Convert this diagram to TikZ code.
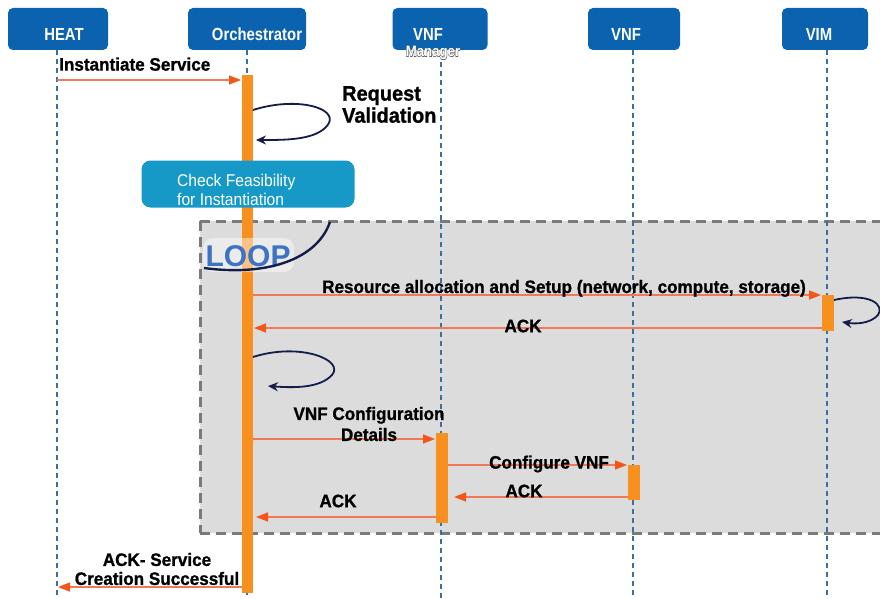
\documentclass[tikz,border=0pt]{standalone}
\usepackage{fontspec}
\setmainfont{Liberation Sans}
\newfontfamily\narrowbold[FakeStretch=0.95,FakeBold=1]{Liberation Sans Bold}
\newfontfamily\hdrfont[FakeStretch=0.85]{Liberation Sans Bold}
\newfontfamily\mgrfont[FakeStretch=0.88]{Liberation Sans Bold}
\newfontfamily\mgroutline[FakeStretch=0.88,FakeBold=4]{Liberation Sans Bold}
\newfontfamily\bodyfont[FakeStretch=0.92]{Liberation Sans}
\usetikzlibrary{arrows.meta,shapes.geometric}
\definecolor{hdrblue}{HTML}{0B62AE}
\definecolor{lifeblue}{HTML}{3C6E9E}
\definecolor{barorange}{HTML}{F7901E}
\definecolor{arrline}{HTML}{F2785A}
\definecolor{arrhead}{HTML}{F2561C}
\definecolor{teal}{HTML}{1799C8}
\definecolor{loopgray}{HTML}{DCDCDC}
\definecolor{loopedge}{HTML}{7A7A7A}
\definecolor{navy}{HTML}{141C4A}
\definecolor{loopblue}{HTML}{3D72C4}
\tikzset{
  hdr/.style={draw=none,fill=hdrblue,rounded corners=5pt,minimum height=42pt,inner sep=0pt},
  hdrtxt/.style={text=white,font=\hdrfont\fontsize{17.5}{18}\selectfont,inner sep=0pt},
  life/.style={lifeblue,line width=1.3pt,dash pattern=on 5pt off 4pt},
  bar/.style={fill=barorange,draw=none},
  msg/.style={arrline,line width=1.6pt,-{Triangle[length=12pt,width=9pt,color=arrhead]}},
  lbl/.style={font=\narrowbold\fontsize{18}{18}\selectfont,text=black,inner sep=0pt},
  selfloop/.style={navy,line width=1.8pt,-{Stealth[length=10pt,width=9pt]}},
}
\begin{document}
\begin{tikzpicture}[x=1pt,y=-1pt]
\useasboundingbox (0,0) rectangle (880,599);
\clip (0,0) rectangle (880,599);
\fill[white] (0,0) rectangle (880,599);
% loop frame
\fill[loopgray] (200,221) rectangle (890,533);
\draw[loopedge,line width=3pt,dash pattern=on 10pt off 6pt] (200,221) -- (890,221) (200,533) -- (890,533) (200,221) -- (200,533);
% header boxes
\node[hdr,minimum width=100pt] (heat) at (58,29) {};
\node[hdr,minimum width=118pt] (orch) at (247,29) {};
\node[hdr,minimum width=95pt] (vnfm) at (440,29) {};
\node[hdr,minimum width=92pt] (vnf) at (634,29) {};
\node[hdr,minimum width=86pt] (vim) at (825,29) {};
\node[hdrtxt] (heatt) at (64,34) {HEAT};
\node[hdrtxt] (orcht) at (257,34) {Orchestrator};
\node[hdrtxt] (vnfmt) at (428,34) {VNF};
\node[hdrtxt] (vnft) at (626,34) {VNF};
\node[hdrtxt] (vimt) at (819,34) {VIM};
\node[font=\mgroutline\fontsize{15}{15}\selectfont,text=gray!70!black,inner sep=0pt] (mgro) at (433,53) {Manager};
\node[font=\mgrfont\fontsize{15}{15}\selectfont,text=white,inner sep=0pt] (mgr) at (433,53) {Manager};
% lifelines
\coordinate (heatB) at (57,599);
\coordinate (orchB) at (247,599);
\coordinate (vnfmB) at (441,599);
\coordinate (vnfB) at (633,599);
\coordinate (vimB) at (827,599);
\draw[life] (57,50) -- (heatB);
\draw[life] (247,50) -- (orchB);
\draw[life] (441,62) -- (vnfmB);
\draw[life] (633,50) -- (vnfB);
\draw[life] (827,50) -- (vimB);
% activation bars
\node[bar,minimum width=11pt,minimum height=518pt,inner sep=0pt,anchor=north] (obar) at (247.5,75) {};
\node[bar,minimum width=12pt,minimum height=36pt,inner sep=0pt,anchor=north] (vimbar) at (828,295) {};
\node[bar,minimum width=12pt,minimum height=90pt,inner sep=0pt,anchor=north] (mbar) at (442,433) {};
\node[bar,minimum width=12pt,minimum height=35pt,inner sep=0pt,anchor=north] (vbar) at (634,465) {};
% check feasibility box
\node[fill=teal,rounded corners=9pt,minimum width=213pt,minimum height=47pt,inner sep=0pt] (check) at (248,184) {};
\node[text=white,font=\bodyfont\fontsize{17}{19}\selectfont,align=left,anchor=west,inner sep=0pt] (checkt) at (177,190) {Check Feasibility\\for Instantiation};
% LOOP label
\fill[white,opacity=0.45,rounded corners=10pt] (203,238) rectangle (294,272);
\node[font=\bfseries\fontsize{30}{30}\selectfont,text=loopblue,inner sep=0pt] (looplbl) at (248,256) {LOOP};
\draw[navy,line width=2.4pt] (330,222) .. controls (316,262) and (262,276) .. (204,268);
% messages
\coordinate (m1s) at (57,80); \coordinate (m1e) at (241,80);
\draw[msg] (m1s) -- (m1e);
\node[lbl,anchor=south west] (l1) at (59,71) {Instantiate Service};
% self loop 1
\draw[selfloop] (253,110) .. controls (300,95) and (345,110) .. (325,128) .. controls (312,140) and (285,140) .. (256,140);
\node[lbl,font=\narrowbold\fontsize{21}{22}\selectfont,align=left,anchor=north west] (l2) at (342,86) {Request\\Validation};
% resource allocation
\coordinate (m2s) at (253,295); \coordinate (m2e) at (821,295);
\draw[msg] (m2s) -- (m2e);
\node[lbl,anchor=south] (l3) at (564,297) {Resource allocation and Setup (network, compute, storage)};
\draw[selfloop] (834,300) .. controls (870,292) and (885,305) .. (878,315) .. controls (870,324) and (855,324) .. (842,322);
\coordinate (m3s) at (822,328); \coordinate (m3e) at (254,328);
\draw[msg] (m3s) -- (m3e);
\node[lbl,anchor=center] (l4) at (523,326) {ACK};
% self loop 2
\draw[selfloop] (253,357) .. controls (300,342) and (345,360) .. (332,375) .. controls (320,388) and (295,388) .. (268,386);
% VNF config details
\coordinate (m4s) at (253,439); \coordinate (m4e) at (435,439);
\draw[msg] (m4s) -- (m4e);
\node[lbl,align=center,anchor=center,font=\narrowbold\fontsize{18}{21}\selectfont] (l5) at (369,424) {VNF Configuration\\Details};
% configure VNF
\coordinate (m5s) at (448,465); \coordinate (m5e) at (627,465);
\draw[msg] (m5s) -- (m5e);
\node[lbl,anchor=center] (l6) at (549,464) {Configure VNF};
% ACK vnf->vnfm
\coordinate (m6s) at (628,497); \coordinate (m6e) at (454,497);
\draw[msg] (m6s) -- (m6e);
\node[lbl,anchor=center] (l7) at (524,491) {ACK};
% ACK vnfm->orch
\coordinate (m7s) at (436,517); \coordinate (m7e) at (256,517);
\draw[msg] (m7s) -- (m7e);
\node[lbl,anchor=center] (l8) at (338,501) {ACK};
% ACK service creation
\coordinate (m8s) at (242,587); \coordinate (m8e) at (58,587);
\draw[msg] (m8s) -- (m8e);
\node[lbl,align=center,anchor=center,font=\narrowbold\fontsize{18}{19}\selectfont] (l9) at (157,569) {ACK- Service\\Creation Successful};
\end{tikzpicture}
\end{document}
